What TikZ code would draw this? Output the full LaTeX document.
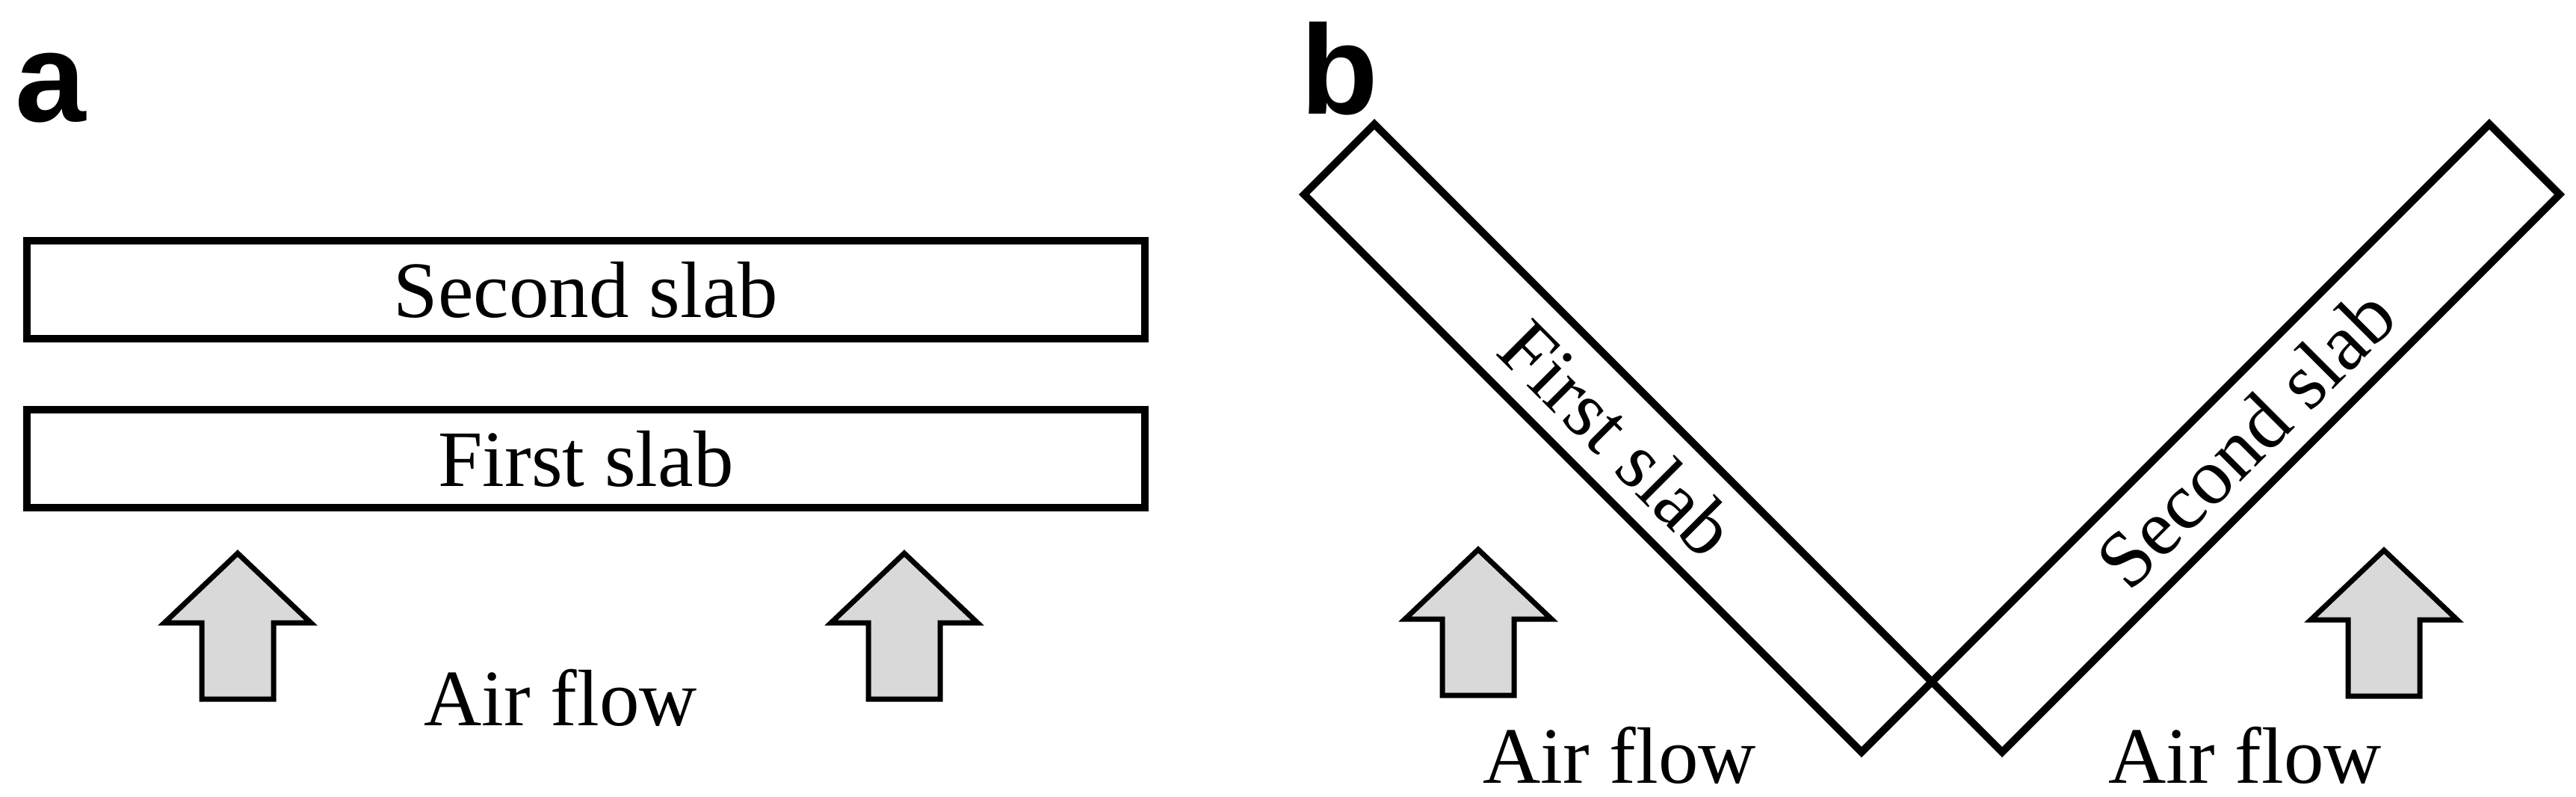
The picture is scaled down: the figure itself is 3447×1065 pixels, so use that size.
\documentclass[tikz,border=0pt]{standalone}
\usepackage{fontspec}
\setmainfont{Liberation Serif}
\newfontfamily\labelfont{Liberation Sans}
\tikzset{
  slab/.style={draw=black, line width=1pt, fill=white, inner sep=0pt,
    font=\fontsize{10.7pt}{12pt}\selectfont},
  txt/.style={font=\fontsize{10.7pt}{12pt}\selectfont, inner sep=0pt},
  panel/.style={font=\labelfont\bfseries\fontsize{17pt}{20pt}\selectfont,
    inner sep=0pt, anchor=base west},
  arrowline/.style={draw=black, line width=0.7pt, fill=black!15, line join=miter},
  airarrow/.pic={\path[arrowline] (0,0) -- (98,93) -- (48,93) -- (48,195)
    -- (-48,195) -- (-48,93) -- (-98,93) -- cycle;}
}
\begin{document}
\begin{tikzpicture}[x=0.1pt,y=-0.1pt]
\useasboundingbox (0,0) rectangle (3447,1065);
% panel labels
\node[panel] (la) at (18,162) {a};
\node[panel] (lb) at (1738,152) {b};
% panel a
\node[slab, minimum width=149.6pt, minimum height=13.1pt] (s2a) at (784,387.5) {Second slab};
\node[slab, minimum width=149.6pt, minimum height=13.1pt] (s1a) at (784,613.5) {First slab};
\pic at (318,740) {airarrow};
\pic at (1210,740) {airarrow};
\node[txt, anchor=base] (afa) at (750,970) {Air flow};
% panel b
\node[slab, rotate=-45, minimum width=105.5pt, minimum height=13.3pt] (s1b) at (2165,586) {First slab};
\node[slab, rotate=45, minimum width=105.5pt, minimum height=13.3pt] (s2b) at (3005,586) {Second slab};
\pic at (1978,735) {airarrow};
\pic at (3190,736) {airarrow};
\node[txt, anchor=base] (afb1) at (2167,1047) {Air flow};
\node[txt, anchor=base] (afb2) at (3004,1047) {Air flow};
\end{tikzpicture}
\end{document}
